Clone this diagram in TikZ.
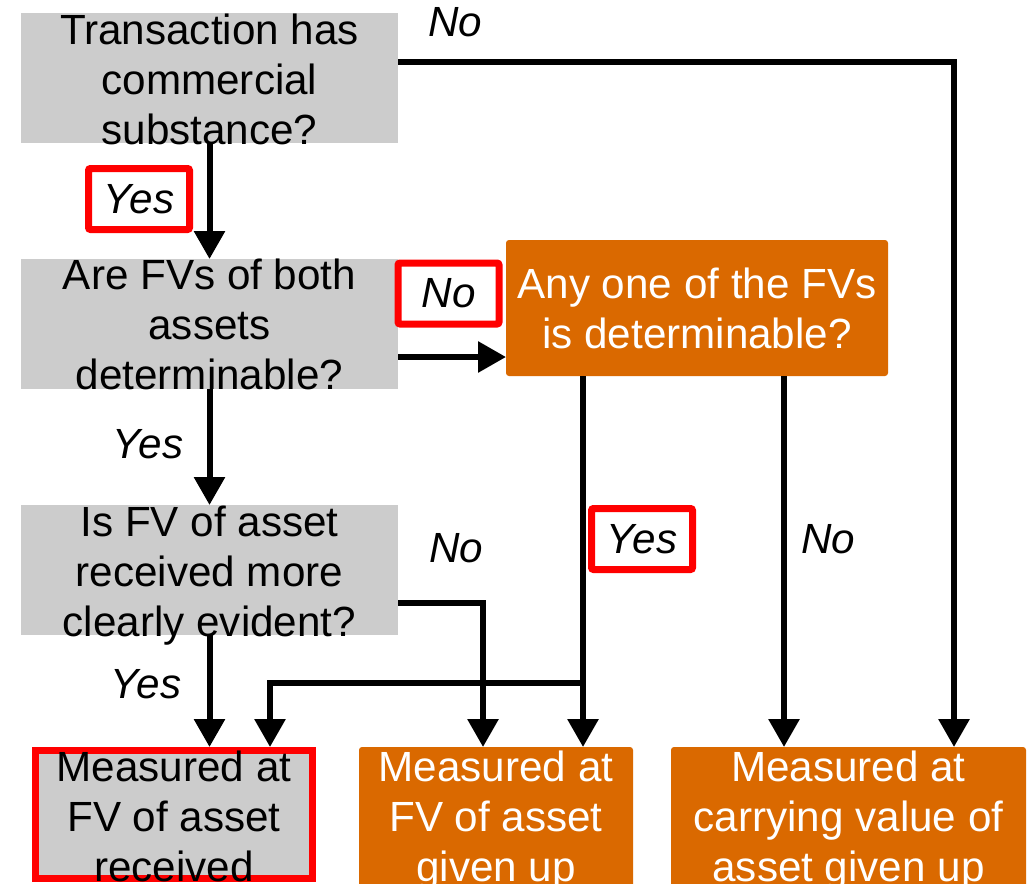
\documentclass[tikz,border=0pt]{standalone}
\usepackage{fontspec}
\setmainfont{Liberation Sans}
\usetikzlibrary{arrows.meta}
\definecolor{boxgray}{RGB}{204,204,204}
\definecolor{boxorange}{RGB}{218,105,0}
\definecolor{markred}{RGB}{255,0,0}
\newcommand\diagfont{\fontsize{42.2}{50}\selectfont}
\begin{document}
\begin{tikzpicture}[x=1pt,y=-1pt,
  graybox/.style={fill=boxgray,minimum width=377pt,minimum height=130pt,inner sep=0pt,outer sep=0pt},
  orangebox/.style={fill=boxorange,rounded corners=3pt,inner sep=0pt,outer sep=0pt},
  redframe/.style={fill=boxgray,draw=markred,line width=7pt,inner sep=0pt},
  boxtext/.style={font=\diagfont,align=center,anchor=base,inner sep=0pt},
  whitetext/.style={boxtext,text=white},
  answer/.style={font=\diagfont\itshape,anchor=base,inner sep=0pt},
  markbox/.style={draw=markred,fill=white,line width=7pt,rounded corners=2pt,minimum width=101pt,minimum height=61pt,inner sep=0pt,font=\diagfont\itshape},
  arr/.style={line width=6pt,-{Triangle[width=30pt,length=28pt]}}
]
\clip (0,0) rectangle (1032,883);
\fill[white] (0,0) rectangle (1032,883);

% boxes
\node[graybox] (q1) at (209.5,78) {};
\node[graybox] (q2) at (209.5,324) {};
\node[graybox] (q3) at (209.5,570) {};
\node[orangebox,minimum width=382pt,minimum height=136pt] (q4) at (697,308) {};
\node[redframe,minimum width=277pt,minimum height=128pt] (r1) at (174,814.5) {};
\node[orangebox,minimum width=274pt,minimum height=150pt] (r2) at (496,822) {};
\node[orangebox,minimum width=355pt,minimum height=150pt] (r3) at (848.5,822) {};

% texts
\node[boxtext] (t1) at (209.5,144) {Transaction has\\commercial\\substance?};
\node[boxtext] (t2) at (209.5,389) {Are FVs of both\\assets\\determinable?};
\node[boxtext] (t3) at (209.5,636) {Is FV of asset\\received more\\clearly evident?};
\node[whitetext] (t4) at (697,348) {Any one of the FVs\\is determinable?};
\node[boxtext] (t5) at (174,881) {Measured at\\FV of asset\\received};
\node[whitetext] (t6) at (496,881) {Measured at\\FV of asset\\given up};
\node[whitetext] (t7) at (848.5,881) {Measured at\\carrying value of\\asset given up};

% connector points
\coordinate (k1) at (954,62);
\coordinate (k2) at (398,357);
\coordinate (k3) at (483,603);
\coordinate (k4) at (583,683);
\coordinate (k5) at (270,683);
\coordinate (k6) at (784,0);

% connectors
\draw[arr] (q1.east |- k1) -- (k1) -- (k1 |- r3.north);
\draw[arr] (q1.south) -- (q2.north);
\draw[arr] (q2.east |- k2) -- (q4.west |- k2);
\draw[arr] (q2.south) -- (q3.north);
\draw[arr] (q3.east |- k3) -- (k3) -- (k3 |- r2.north);
\draw[arr] (q3.south) -- (q3.south |- r1.north);
\draw[arr] (q4.south -| k4) -- (k4 |- r2.north);
\draw[arr] (k4) -- (k5) -- (k5 |- r1.north);
\draw[arr] (q4.south -| k6) -- (k6 |- r3.north);

% answer labels
\node[answer] (l1) at (455,37) {No};
\node[markbox] (l2) at (139,199) {Yes};
\node[markbox] (l3) at (448.5,293.5) {No};
\node[answer] (l4) at (148,458) {Yes};
\node[answer] (l5) at (456,562) {No};
\node[markbox] (l6) at (642,539) {Yes};
\node[answer] (l7) at (828,553) {No};
\node[answer] (l8) at (146,698) {Yes};
\end{tikzpicture}
\end{document}
